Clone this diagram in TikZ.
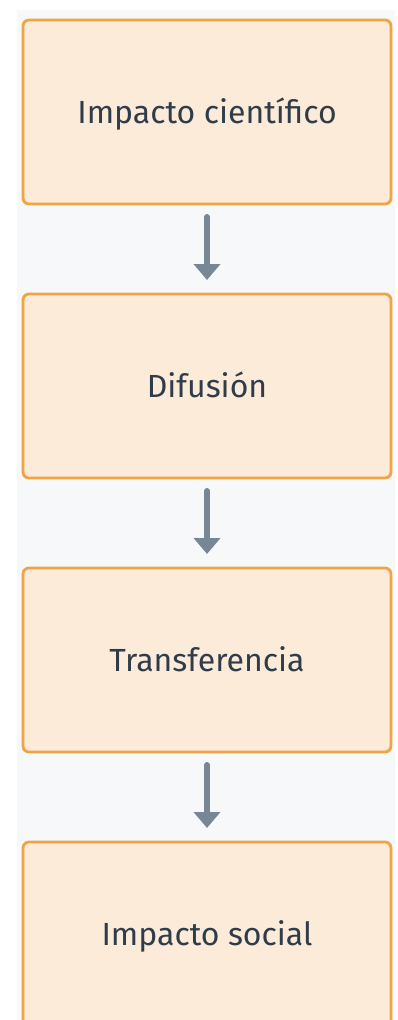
\documentclass[tikz,border=0pt]{standalone}
\usepackage{fontspec}
\setmainfont{Fira Sans}
\usepackage{tikz}
\usetikzlibrary{arrows.meta, positioning}

\definecolor{fondo}{HTML}{F7F8FA}
\definecolor{cajafill}{HTML}{FCEBD9}
\definecolor{cajaborde}{HTML}{F0A444}
\definecolor{flecha}{HTML}{788796}
\definecolor{texto}{HTML}{2F3D4B}

\begin{document}
\begin{tikzpicture}[x=1pt, y=1pt,
    etapa/.style = {draw=cajaborde, fill=cajafill, line width=2.8pt,
      rounded corners=6pt, minimum width=368pt, minimum height=184pt,
      outer sep=0pt, text height=22pt, text depth=0pt,
      text=texto, font=\fontsize{32}{38}\selectfont},
    flujo/.style = {-{Triangle[width=26pt, length=16pt]}, color=flecha,
      line width=6pt, line cap=round, shorten <=13pt, shorten >=14pt}]
    \useasboundingbox (0,0) rectangle (398,-1020);
    \fill [fondo] (17,-10) rectangle (395,-1020);
    \begin{scope}
    \clip (0,0) rectangle (398,-1020);
    \node (impacto) [etapa] at (207,-112) {Impacto científico};
    \node (difusion) [etapa, below=90pt of impacto] {Difusión};
    \node (transferencia) [etapa, below=90pt of difusion] {Transferencia};
    \node (social) [etapa, below=90pt of transferencia] {Impacto social};

    \path [flujo]
      (impacto) edge (difusion)
      (difusion) edge (transferencia)
      (transferencia) edge (social);
    \end{scope}
\end{tikzpicture}
\end{document}
